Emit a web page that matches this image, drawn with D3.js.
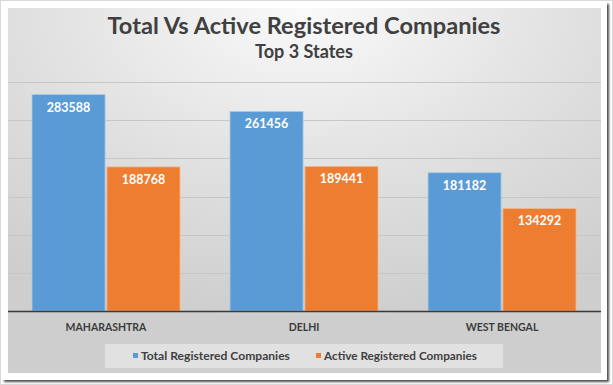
<!DOCTYPE html>
<html>
<head>
<meta charset="utf-8">
<script src="https://cdn.jsdelivr.net/npm/d3@7"></script>
<style>
  html, body { margin: 0; padding: 0; background: #ffffff; }
  svg { display: block; }
  text { font-family: Lato, "Open Sans", sans-serif; }
</style>
</head>
<body>
<script>
const states = ["MAHARASHTRA", "DELHI", "WEST BENGAL"];
const seriesNames = ["Total Registered Companies", "Active Registered Companies"];
const totalValues = [283588, 261456, 181182];
const activeValues = [188768, 189441, 134292];
const yTicks = [0, 50000, 100000, 150000, 200000, 250000, 300000];
const colors = ["#5b9bd5", "#ed7d31"];

const W = 613, H = 385;
const svg = d3.select("body").append("svg").attr("width", W).attr("height", H);
const defs = svg.append("defs");

const bg = defs.append("radialGradient").attr("id", "bg")
  .attr("cx", "50%").attr("cy", "0%").attr("r", "85%")
  .attr("fx", "50%").attr("fy", "0%");
bg.append("stop").attr("offset", "0%").attr("stop-color", "#fafafa");
bg.append("stop").attr("offset", "55%").attr("stop-color", "#e0e0e0");
bg.append("stop").attr("offset", "100%").attr("stop-color", "#cecece");

const sh = defs.append("filter").attr("id", "shadow").attr("x", "-5%").attr("y", "-5%").attr("width", "112%").attr("height", "112%");
sh.append("feDropShadow").attr("dx", 2).attr("dy", 2).attr("stdDeviation", 1.2).attr("flood-color", "#000").attr("flood-opacity", 0.7);

// outer frame
svg.append("rect").attr("x", 0.5).attr("y", 0.5).attr("width", W - 1).attr("height", H - 1)
  .attr("fill", "none").attr("stroke", "#d8d8d8");
svg.append("rect").attr("x", 2).attr("y", 2).attr("width", 605).attr("height", 378)
  .attr("fill", "#ffffff").attr("filter", "url(#shadow)");
// chart area
svg.append("rect").attr("x", 8).attr("y", 8).attr("width", 593).attr("height", 365)
  .attr("fill", "url(#bg)");

function fit(sel, target) {
  const node = sel.node();
  let fs = parseFloat(sel.attr("font-size"));
  const w = node.getComputedTextLength();
  if (w > 0) sel.attr("font-size", (fs * target / w).toFixed(2));
}

// titles
const title = svg.append("text").attr("x", 304).attr("y", 34).attr("text-anchor", "middle")
  .attr("font-size", 24).attr("font-weight", "bold").attr("fill", "#404040")
  .text("Total Vs Active Registered Companies");
fit(title, 393);
const sub = svg.append("text").attr("x", 304).attr("y", 58).attr("text-anchor", "middle")
  .attr("font-size", 17).attr("font-weight", "bold").attr("fill", "#404040")
  .text("Top 3 States");
fit(sub, 98);

// scales
const x = d3.scaleBand().domain(states).range([7, 601]).padding(0);
const xs = d3.scaleBand().domain(seriesNames).range([25, 173]).paddingInner(0.025);
const y = d3.scaleLinear().domain([0, 300000]).range([311, 82]);

// gridlines
svg.append("g").selectAll("line").data(yTicks.filter(d => d > 0)).join("line")
  .attr("x1", 8).attr("x2", 601)
  .attr("y1", d => Math.round(y(d)) + 0.5).attr("y2", d => Math.round(y(d)) + 0.5)
  .attr("stroke", "#c6c6c6").attr("stroke-width", 1);

// bars
const data = states.map((s, i) => ({ state: s, vals: [totalValues[i], activeValues[i]] }));
const groups = svg.append("g").selectAll("g").data(data).join("g")
  .attr("transform", d => `translate(${x(d.state)},0)`);
groups.selectAll("rect").data(d => d.vals.map((v, j) => ({ v, s: seriesNames[j], j }))).join("rect")
  .attr("x", d => xs(d.s)).attr("width", xs.bandwidth())
  .attr("y", d => y(d.v)).attr("height", d => y(0) - y(d.v))
  .attr("fill", d => colors[d.j])
  .attr("stroke", d => d.j === 0 ? "#a9cbe9" : "#f5b78f").attr("stroke-width", 0.8);
groups.selectAll("text").data(d => d.vals.map((v, j) => ({ v, s: seriesNames[j], j }))).join("text")
  .attr("x", d => xs(d.s) + xs.bandwidth() / 2).attr("y", d => y(d.v) + 17)
  .attr("text-anchor", "middle").attr("font-size", 12.5).attr("font-weight", "bold")
  .attr("fill", "#ffffff").text(d => d.v);

// baseline
svg.append("line").attr("x1", 8).attr("x2", 601).attr("y1", 311.5).attr("y2", 311.5)
  .attr("stroke", "#3a3a3a").attr("stroke-width", 1.3);

// category axis
const xAxis = svg.append("g").attr("transform", "translate(0,311)")
  .call(d3.axisBottom(x).tickSize(0).tickPadding(0));
xAxis.select(".domain").remove();
xAxis.selectAll("text").attr("y", 20).attr("dy", 0)
  .attr("font-size", 10.5).attr("font-weight", "bold").attr("fill", "#3c3c3c")
  .attr("font-family", "Lato, sans-serif");

// legend
const lg = svg.append("g");
lg.append("rect").attr("x", 105).attr("y", 344).attr("width", 398).attr("height", 24)
  .attr("fill", "#e6e6e6").attr("opacity", 0.8);
const legendX = [133, 316];
seriesNames.forEach((n, i) => {
  lg.append("rect").attr("x", legendX[i]).attr("y", 353).attr("width", 5).attr("height", 5)
    .attr("fill", colors[i]);
  const t = lg.append("text").attr("x", legendX[i] + 8).attr("y", 359.5)
    .attr("font-size", 11.5).attr("font-weight", "bold").attr("fill", "#404040").text(n);
  fit(t, i === 0 ? 149 : 153);
});
</script>
</body>
</html>
